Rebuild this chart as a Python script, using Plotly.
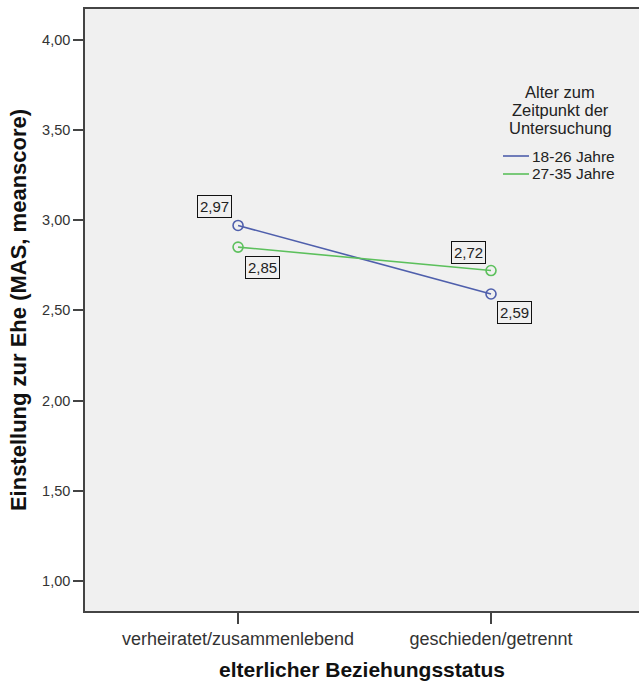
import plotly.graph_objects as go

categories = ["verheiratet/zusammenlebend", "geschieden/getrennt"]
series_names = ["18-26 Jahre", "27-35 Jahre"]
series_values = [
    [2.97, 2.59],
    [2.85, 2.72],
]
y_tickvals = [1.0, 1.5, 2.0, 2.5, 3.0, 3.5, 4.0]
y_ticktext = ["1,00", "1,50", "2,00", "2,50", "3,00", "3,50", "4,00"]
legend_title_lines = ["Alter zum", "Zeitpunkt der", "Untersuchung"]
x_title = "elterlicher Beziehungsstatus"
y_title = "Einstellung zur Ehe (MAS, meanscore)"

colors = ["#4f5fac", "#5cc05c"]
FONT = "Liberation Sans, Arial, sans-serif"

xpos = list(range(len(categories)))

fig = go.Figure()
for name, vals, col in zip(series_names, series_values, colors):
    fig.add_trace(go.Scatter(
        x=xpos, y=vals, mode="lines+markers", name=name,
        line=dict(color=col, width=1.6),
        marker=dict(symbol="circle-open", size=10, color=col, line=dict(width=1.6, color=col)),
        showlegend=False, hoverinfo="skip",
    ))

# value label boxes (offsets in px around each point)
offsets = [
    [(-23.5, 19), (23.5, -18)],
    [(24, -20), (-23, 18)],
]
for vals, offs in zip(series_values, offsets):
    for xi, v, (dx, dy) in zip(xpos, vals, offs):
        fig.add_annotation(
            x=xi, y=v, xref="x", yref="y", text=f"{v:.2f}".replace(".", ","),
            showarrow=False, xanchor="center", yanchor="middle",
            xshift=dx, yshift=dy,
            font=dict(family=FONT, size=15, color="#222"),
            bordercolor="#111", borderwidth=1, borderpad=2, bgcolor="#f0f0f0",
        )

# manual legend (positions in screen px, mapped to paper coords)
W0, H0, PW, PH = 85, 9, 554, 602
def px(x):
    return (x - W0) / PW
def py(y):
    return (H0 + PH - y) / PH

for i, t in enumerate(legend_title_lines):
    fig.add_annotation(x=px(560), y=py(92 + 18 * i), xref="paper", yref="paper",
                       text=t, showarrow=False, xanchor="center", yanchor="middle",
                       font=dict(family=FONT, size=16.5, color="#222"))
for i, (name, col) in enumerate(zip(series_names, colors)):
    yy = 156 + 18 * i
    fig.add_shape(type="line", xref="paper", yref="paper",
                  x0=px(503), x1=px(529), y0=py(yy), y1=py(yy),
                  line=dict(color=col, width=1.6))
    fig.add_annotation(x=px(530), y=py(yy), xref="paper", yref="paper",
                       text=name, showarrow=False, xanchor="left", yanchor="middle",
                       font=dict(family=FONT, size=15.5, color="#222"))

fig.update_layout(
    width=639, height=681,
    margin=dict(l=85, r=0, t=9, b=70),
    paper_bgcolor="white", plot_bgcolor="#f0f0f0",
    showlegend=False,
    font=dict(family=FONT, color="#222"),
)
fig.update_xaxes(
    range=[-0.605, 1.585], tickvals=xpos, ticktext=categories,
    showgrid=False, zeroline=False, automargin=False,
    showline=True, linecolor="#444", linewidth=1.5, mirror=True,
    ticks="outside", ticklen=11, tickcolor="#444", tickwidth=1.5,
    tickfont=dict(family=FONT, size=18, color="#333"),
    title=dict(text=f"<b>{x_title}</b>", font=dict(family=FONT, size=21, color="#111"), standoff=20),
)
fig.update_yaxes(
    range=[0.834, 4.169], tickvals=y_tickvals, ticktext=y_ticktext,
    showgrid=False, zeroline=False, automargin=False,
    showline=True, linecolor="#444", linewidth=1.5, mirror=False,
    ticks="outside", ticklen=10, tickcolor="#444", tickwidth=1.5,
    tickfont=dict(family=FONT, size=14.5, color="#333"),
    title=dict(text=f"<b>{y_title}</b>", font=dict(family=FONT, size=22, color="#111"), standoff=9),
)

# remove the browser's default 8px body margin so the figure fills the window exactly
fig.write_html("out.html",
               config={"displayModeBar": False},
               post_script="document.body.style.margin='0';document.body.style.overflow='hidden';")
